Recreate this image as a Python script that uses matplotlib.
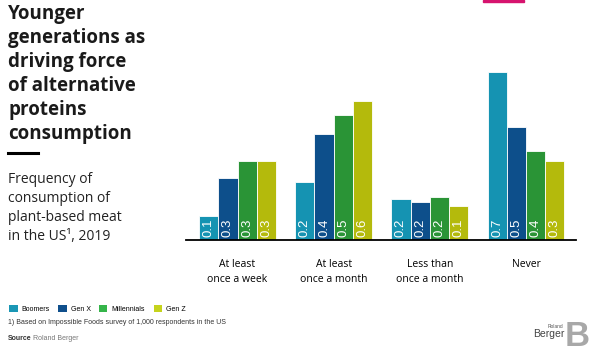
import matplotlib
matplotlib.use("Agg")
import matplotlib.pyplot as plt
from matplotlib.patches import Patch
import numpy as np

categories = ["At least\nonce a week", "At least\nonce a month", "Less than\nonce a month", "Never"]
generations = ["Boomers", "Gen X", "Millennials", "Gen Z"]
boomers = [0.10, 0.24, 0.17, 0.70]
gen_x = [0.26, 0.44, 0.16, 0.47]
millennials = [0.33, 0.52, 0.18, 0.37]
gen_z = [0.33, 0.58, 0.14, 0.33]
colors = ["#1593b2", "#0d4f8b", "#2a9436", "#b4ba0c"]
legend_colors = ["#1a97b5", "#0f4f8c", "#35b54a", "#c5d31c"]

series = [boomers, gen_x, millennials, gen_z]

W, H = 600, 354
fig = plt.figure(figsize=(6, 3.54), dpi=100)
fig.patch.set_facecolor("white")

# chart area in pixel coords
left, right, top, base = 186, 576, 60, 240
ax = fig.add_axes([left / W, 1 - base / H, (right - left) / W, (base - top) / H])

x = np.arange(len(categories))
width = 0.2
offsets = [-0.3, -0.1, 0.1, 0.3]
for vals, off, c in zip(series, offsets, colors):
    bars = ax.bar(x + off, vals, width=width, color=c, edgecolor="white", linewidth=0.6)
    for b, v in zip(bars, vals):
        ax.text(b.get_x() + b.get_width() / 2, 0.012, f"{v:.1f}", rotation=90,
                ha="center", va="bottom", color="white", fontsize=9.5,
                family="Liberation Sans")

ax.set_xlim(-0.536, 3.52)
ax.set_ylim(0, 0.75)
for s in ["top", "right", "left"]:
    ax.spines[s].set_visible(False)
ax.spines["bottom"].set_linewidth(1.3)
ax.spines["bottom"].set_color("black")
ax.set_yticks([])
ax.set_xticks(x)
ax.set_xticklabels(categories, fontsize=7.5, family="Open Sans", linespacing=1.4)
ax.tick_params(axis="x", length=0, pad=14)

# title block
title = "Younger\ngenerations as\ndriving force\nof alternative\nproteins\nconsumption"
fig.text(8 / W, 1 - 4 / H, title, ha="left", va="top", fontsize=13.5,
         fontweight="bold", family="Open Sans", linespacing=1.27, color="#1a1a1a")
fig.add_artist(plt.Line2D([8 / W, 38 / W], [1 - 153 / H, 1 - 153 / H],
                          color="black", linewidth=2.2))
subtitle = "Frequency of\nconsumption of\nplant-based meat\nin the US\u00b9, 2019"
fig.text(8 / W, 1 - 172 / H, subtitle, ha="left", va="top", fontsize=10,
         family="Open Sans", linespacing=1.36, color="#222222")

# pink mark at top
fig.add_artist(plt.Rectangle((483 / W, 1 - 2 / H), 41 / W, 2 / H, color="#d6136e"))

# legend
handles = [Patch(facecolor=c) for c in legend_colors]
fig.legend(handles, generations, ncol=4, loc="center left",
           bbox_to_anchor=(3 / W, 1 - 309 / H), frameon=False,
           prop={"family": "Liberation Sans", "size": 5},
           handlelength=1.2, handleheight=1.2, columnspacing=1.2, handletextpad=0.6)

fig.text(8 / W, 1 - 322 / H,
         "1) Based on Impossible Foods survey of 1,000 respondents in the US",
         fontsize=5, family="Liberation Sans", va="center", color="#333333")
fig.text(8 / W, 1 - 339 / H, "Source", fontsize=5, family="Liberation Sans",
         fontweight="bold", va="center", color="#333333")
fig.text(33 / W, 1 - 339 / H, "Roland Berger", fontsize=5, family="Liberation Sans",
         va="center", color="#777777")

# logo
fig.text(563 / W, 1 - 326 / H, "Roland", fontsize=3.5, family="Liberation Sans",
         ha="right", va="center", color="#555555")
fig.text(564 / W, 1 - 334 / H, "Berger", fontsize=7.5, family="Liberation Sans",
         ha="right", va="center", color="#444444")
fig.text(565 / W, 1 - 336 / H, "B", fontsize=25, family="Liberation Sans",
         fontweight="bold", ha="left", va="center", color="#a8a8a8")

fig.savefig("out.png", dpi=100, facecolor="white")
